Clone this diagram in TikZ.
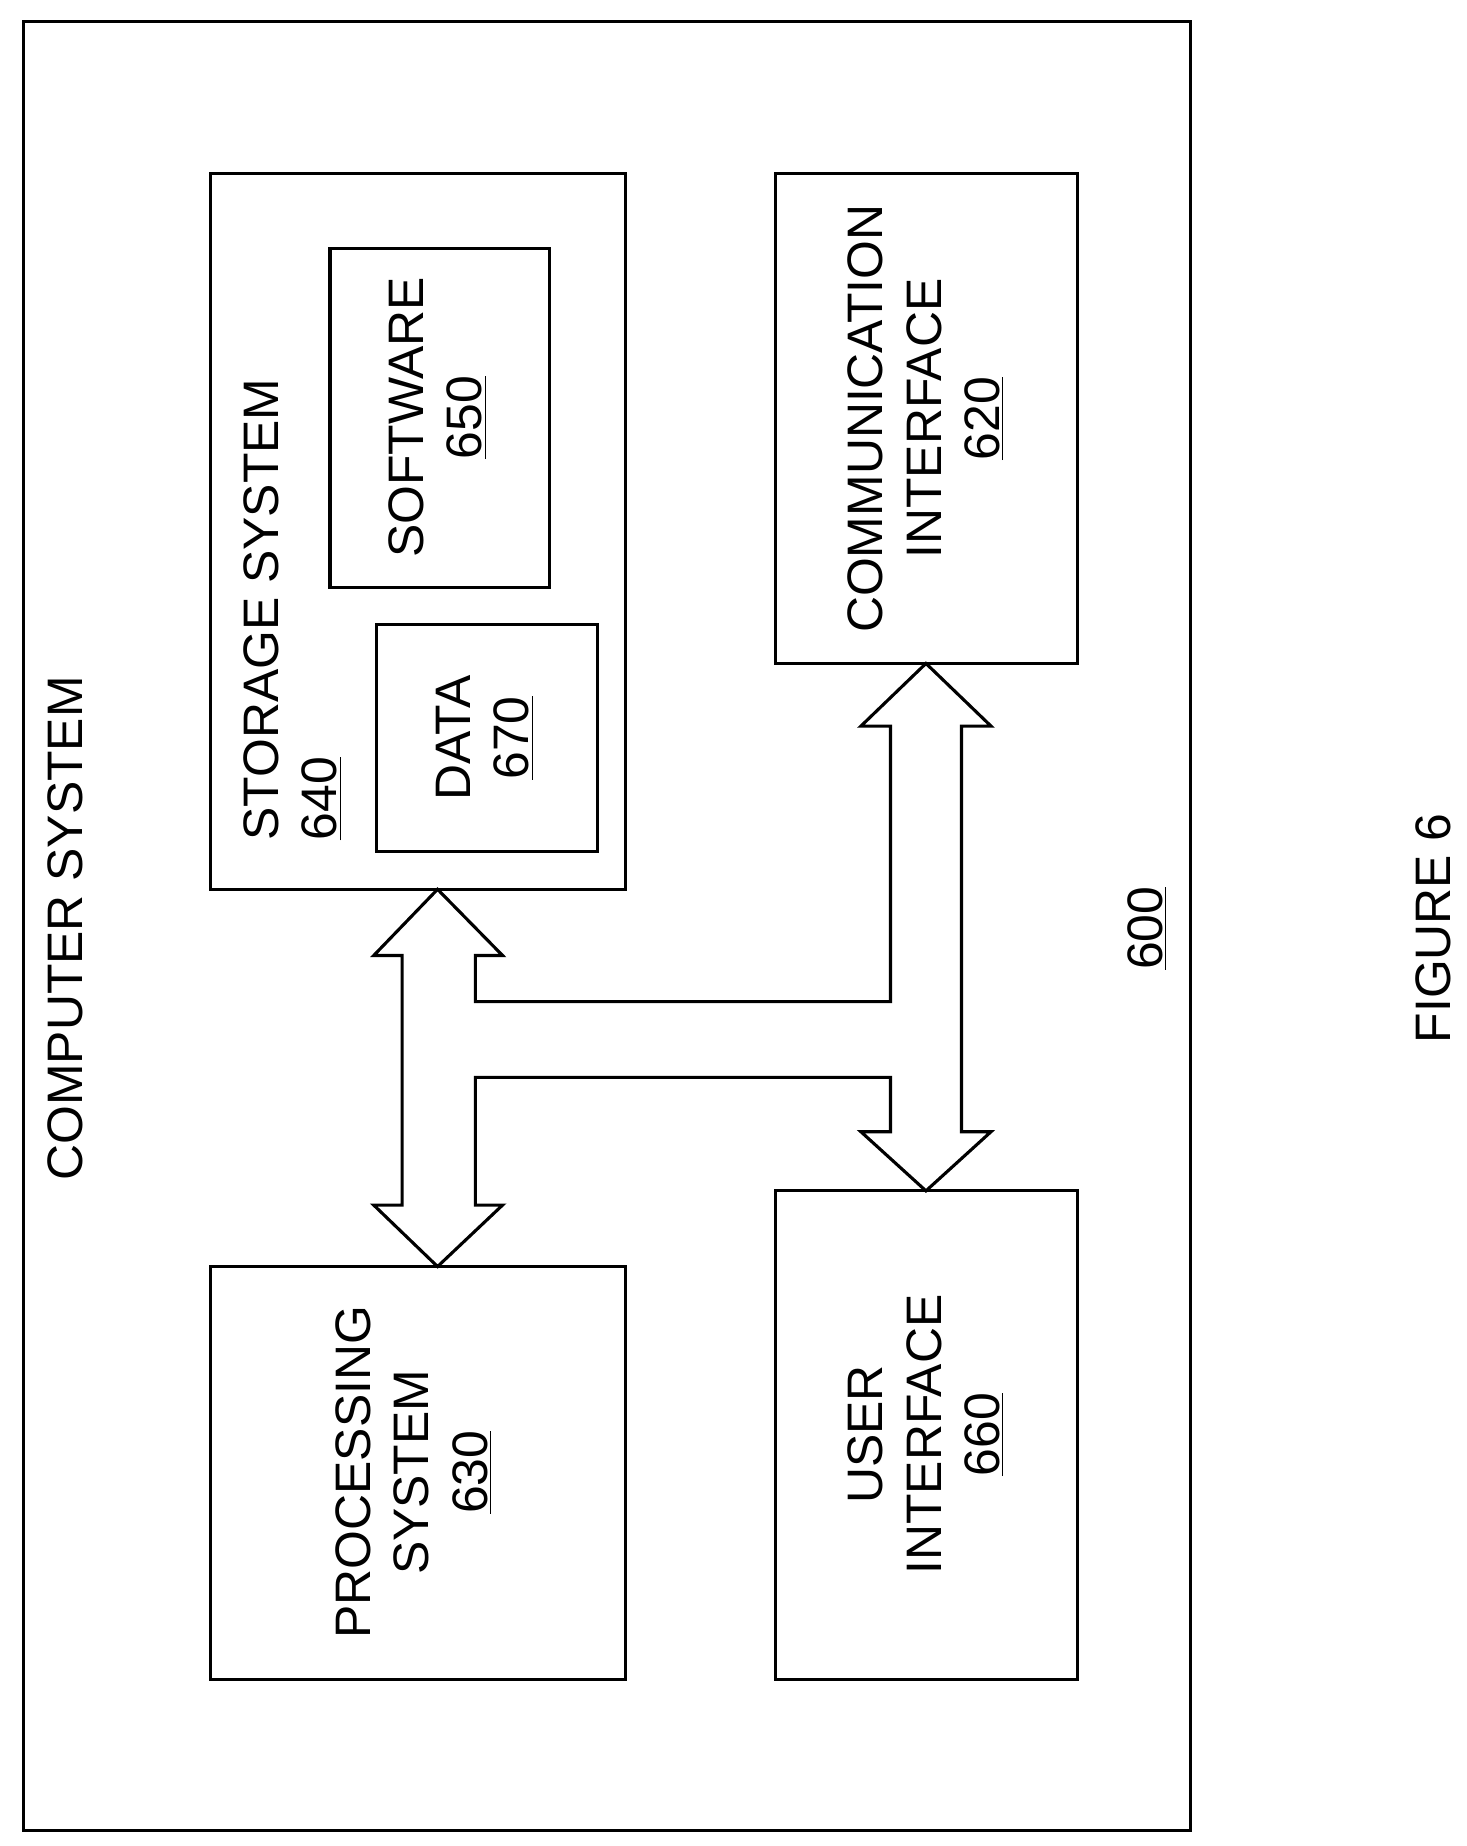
\documentclass[tikz,border=0pt]{standalone}
\usepackage{fontspec}
\setmainfont{Liberation Sans}
\begin{document}
\begin{tikzpicture}[x=0.02cm,y=-0.02cm,line width=1.5pt,line join=miter,
  box/.style={draw,line width=1.5pt},
  lbl/.style={rotate=90,align=center,font=\fontsize{24}{28}\selectfont,inner sep=0pt}]
\useasboundingbox (0,0) rectangle (1240,1561);
\draw[box] (20,18) rectangle (1007,1548);
\draw[box] (178,147) rectangle (529,752);
\draw[box] (279,210) rectangle (465,497);
\draw[box] (318,528) rectangle (505,720);
\draw[box] (656,147) rectangle (911,561);
\draw[box] (178,1071) rectangle (529,1420);
\draw[box] (656,1007) rectangle (911,1420);
% arrows
\draw (370,752) -- (425,808) -- (402,808) -- (402,847) -- (753,847) -- (753,614) -- (728,614) -- (783,561) -- (838,614) -- (813,614) -- (813,957) -- (838,957) -- (783,1007) -- (728,957) -- (753,957) -- (753,911) -- (402,911) -- (402,1019) -- (425,1019) -- (370,1071) -- (316,1019) -- (340,1019) -- (340,808) -- (316,808) -- cycle;
% text
\node[lbl] (cs) at (55,785) {COMPUTER SYSTEM};
\node[lbl] (n600) at (970,785) {\underline{600}};
\node[lbl] (fig) at (1212,785) {FIGURE 6};
\node[lbl,align=left,anchor=north west] (st) at (205,712) {STORAGE SYSTEM\\\underline{640}};
\node[lbl] (sw) at (370,353) {SOFTWARE\\\underline{650}};
\node[lbl] (da) at (410,624) {DATA\\\underline{670}};
\node[lbl] (ci) at (783,354) {COMMUNICATION\\INTERFACE\\\underline{620}};
\node[lbl] (ps) at (350,1245) {PROCESSING\\SYSTEM\\\underline{630}};
\node[lbl] (ui) at (783,1213) {USER\\INTERFACE\\\underline{660}};
\end{tikzpicture}
\end{document}
